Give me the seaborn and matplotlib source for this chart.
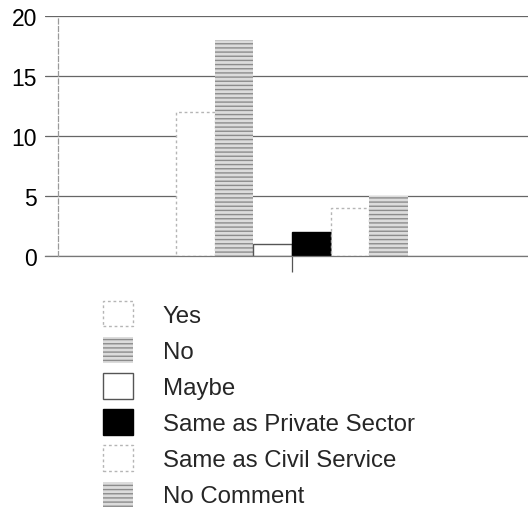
import matplotlib
matplotlib.use("Agg")
import matplotlib.pyplot as plt
import matplotlib.patches as mpatches
import seaborn as sns
import pandas as pd

responses = ["Yes", "No", "Maybe", "Same as Private Sector", "Same as Civil Service", "No Comment"]
counts = [12, 18, 1, 2, 4, 5]
group = [""] * len(responses)
y_ticks = [0, 5, 10, 15, 20]

sns.set_style("ticks")
plt.rcParams["font.family"] = ["Liberation Sans", "DejaVu Sans"]

styles = {
    "Yes": dict(facecolor="white", edgecolor="#b5b5b5", linestyle=(0, (2, 2)), linewidth=1.0),
    "No": dict(facecolor="#dcdcdc", edgecolor="#8c8c8c", hatch="----", linewidth=0),
    "Maybe": dict(facecolor="white", edgecolor="#555555", linestyle="-", linewidth=1.0),
    "Same as Private Sector": dict(facecolor="black", edgecolor="black", linewidth=1.0),
    "Same as Civil Service": dict(facecolor="white", edgecolor="#b5b5b5", linestyle=(0, (2, 2)), linewidth=1.0),
    "No Comment": dict(facecolor="#dcdcdc", edgecolor="#8c8c8c", hatch="----", linewidth=0),
}

df = pd.DataFrame({"group": group, "response": responses, "count": counts})

fig = plt.figure(figsize=(5.28, 5.10), dpi=100)
W, H = 528, 510
ax_left, ax_right = 45, 528
ax_w = ax_right - ax_left
ax = fig.add_axes([ax_left / W, (H - 257) / H, ax_w / W, 240 / H])

palette = {r: "white" for r in responses}
sns.barplot(data=df, x="group", y="count", hue="response", hue_order=responses,
            palette=palette, width=232 / ax_w, ax=ax, legend=False, saturation=1)

for cont, r in zip(ax.containers, responses):
    for bar in cont:
        st = styles[r]
        bar.set_facecolor(st["facecolor"])
        bar.set_edgecolor(st["edgecolor"])
        bar.set_linewidth(st.get("linewidth", 1.0))
        if "linestyle" in st:
            bar.set_linestyle(st["linestyle"])
        if "hatch" in st:
            bar.set_hatch(st["hatch"])

for s in ["top", "right"]:
    ax.spines[s].set_visible(False)
ax.spines["bottom"].set_visible(True)
ax.spines["bottom"].set_color("#777777")
ax.spines["bottom"].set_linewidth(0.9)
ax.spines["left"].set_position(("axes", 13 / ax_w))
ax.spines["left"].set_color("#9a9a9a")
ax.spines["left"].set_linestyle((0, (4, 2)))
ax.spines["left"].set_linewidth(0.9)
ax.spines["left"].set_zorder(3)

center_frac = (292 - ax_left) / ax_w
ax.set_ylim(0, 20)
ax.set_xlim(-center_frac, 1 - center_frac)
ax.set_yticks(y_ticks)
ax.set_yticklabels([str(t) for t in y_ticks])
ax.set_xticks([0])
ax.set_xticklabels([""])
ax.set_xlabel("")
ax.set_ylabel("")

ax.yaxis.grid(True, color="#666666", linewidth=0.9)
ax.set_axisbelow(True)
ax.tick_params(axis="y", which="major", length=0, pad=15, labelsize=16.5, labelcolor="black")
ax.tick_params(axis="x", which="major", direction="out", length=11.5, width=0.9,
               color="#555555", bottom=True)

handles = []
for r in responses:
    st = dict(styles[r])
    handles.append(mpatches.Patch(**st, label=r))

fig.legend(handles=handles, loc="upper left", bbox_to_anchor=(103 / W, (H - 302) / H),
           frameon=False, fontsize=17.3, handlelength=1.23, handleheight=1.25,
           labelspacing=0.43, handletextpad=1.25, borderpad=0, borderaxespad=0)

fig.savefig("out.png", dpi=100)
